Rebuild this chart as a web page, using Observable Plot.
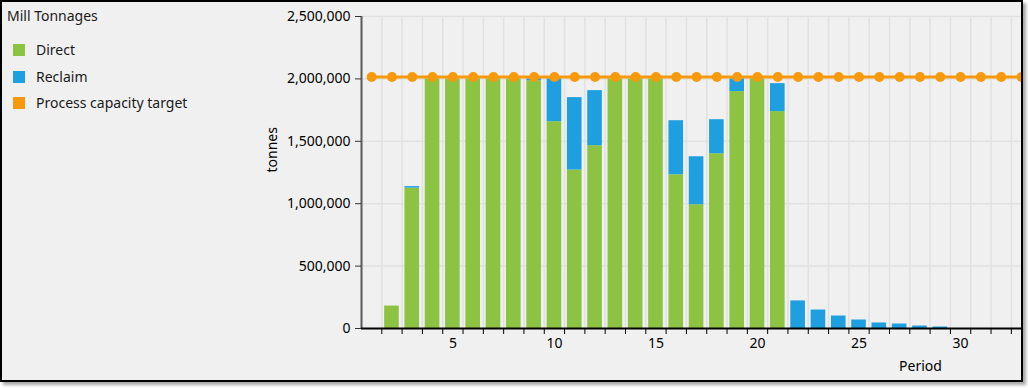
<!DOCTYPE html>
<html>
<head>
<meta charset="utf-8">
<script src="https://cdn.jsdelivr.net/npm/d3@7"></script>
<script src="https://cdn.jsdelivr.net/npm/@observablehq/plot@0.6"></script>
<style>
  html, body { margin: 0; padding: 0; background: #fff; }
  body { width: 1028px; height: 388px; position: relative; overflow: hidden; font-family: "Noto Sans", sans-serif; }
  #frame { position: absolute; left: 0; top: 0; width: 1019px; height: 378px; border: 2px solid #000;
           background: #f0f0f0; box-shadow: 3px 3px 3px rgba(0,0,0,0.35); overflow: hidden; }
  #layer { position: absolute; left: -2px; top: -2px; width: 1028px; height: 388px; }
  #chart { position: absolute; left: 0; top: 0; }
  #legend { position: absolute; left: 0; top: 0; font-size: 14px; color: #1a1a1a; }
  .ttl { position: absolute; left: 7px; top: 6px; line-height: 20px; white-space: nowrap; }
  .item { position: absolute; left: 13px; height: 20px; line-height: 20px; white-space: nowrap; }
  .sw { position: absolute; left: 0; top: 4px; width: 12px; height: 12px; }
  .lb { position: absolute; left: 23px; top: 0; }
</style>
</head>
<body>
<div id="frame"><div id="layer">
  <div id="chart"></div>
  <div id="legend"></div>
</div></div>
<script>
// ---- data ----
const periods = d3.range(1, 34);
const direct = [0, 180000, 1125000, 2000000, 2000000, 2000000, 2000000, 2000000, 1985000, 1657000,
  1270000, 1465000, 2000000, 2000000, 2000000, 1232000, 992000, 1400000, 1898000, 2000000,
  1738000, 0, 0, 0, 0, 0, 0, 0, 0, 0, 0, 0, 0];
const reclaim = [0, 0, 12000, 0, 0, 0, 0, 0, 15000, 343000,
  580000, 441000, 0, 0, 0, 433000, 384000, 273000, 102000, 0,
  224000, 221000, 148000, 100000, 68000, 44000, 36000, 20000, 12000, 0, 0, 0, 0];
const target = periods.map(() => 2015000);
const yTicks = [0, 500000, 1000000, 1500000, 2000000, 2500000];
const xLabels = [5, 10, 15, 20, 25, 30];
const seriesNames = ["Direct", "Reclaim", "Process capacity target"];
const colors = ["#8DC343", "#1E9FDF", "#F7990D"];

const rows = periods.map((p, i) => ({p, direct: direct[i], reclaim: reclaim[i], target: target[i]}));
const bounds = periods.slice(0, -1).map(p => p + 0.5);
const half = 0.36;

const chart = Plot.plot({
  width: 1021,
  height: 380,
  marginLeft: 361,
  marginRight: 0,
  marginTop: 16,
  marginBottom: 52,
  style: {background: "transparent", fontFamily: "'Noto Sans', sans-serif", fontSize: "14px", color: "#000", overflow: "hidden"},
  x: {type: "linear", domain: [0.5, 33]},
  y: {domain: [0, 2500000]},
  marks: [
    Plot.gridY(yTicks.slice(1), {stroke: "#e1e1e1", strokeOpacity: 1, strokeWidth: 1.5}),
    Plot.gridX(bounds, {stroke: "#e1e1e1", strokeOpacity: 1, strokeWidth: 1.5}),
    Plot.rect(rows, {x1: d => d.p - half, x2: d => d.p + half, y1: 0, y2: "direct", fill: colors[0]}),
    Plot.rect(rows, {x1: d => d.p - half, x2: d => d.p + half, y1: "direct", y2: d => d.direct + d.reclaim, fill: colors[1]}),
    Plot.ruleX([0.5], {stroke: "#5a5a5a", strokeWidth: 2}),
    Plot.ruleY([0], {stroke: "#000", strokeWidth: 2}),
    Plot.axisY({ticks: yTicks, tickSize: 6, tickPadding: 5, tickFormat: d3.format(","), stroke: "#333", fill: "#000", label: null}),
    Plot.axisX({ticks: bounds, tickSize: 6, tickFormat: () => "", stroke: "#000", label: null}),
    Plot.axisX({ticks: xLabels, tickSize: 0, tickPadding: 10, fill: "#000", label: null}),
    Plot.lineY(rows, {x: "p", y: "target", stroke: colors[2], strokeWidth: 3}),
    Plot.dot(rows, {x: "p", y: "target", r: 5, fill: colors[2], stroke: null}),
    Plot.text(["tonnes"], {frameAnchor: "left", dx: -89, rotate: -90, fill: "#000", fontSize: 14}),
    Plot.text(["Period"], {frameAnchor: "bottom-right", dx: -101, dy: 38, textAnchor: "middle", lineAnchor: "middle", fill: "#000", fontSize: 14})
  ]
});
document.getElementById("chart").appendChild(chart);

// ---- legend ----
const lg = document.getElementById("legend");
const t = document.createElement("div");
t.className = "ttl"; t.textContent = "Mill Tonnages";
lg.appendChild(t);
const tops = [40, 67, 93];
seriesNames.forEach((name, i) => {
  const it = document.createElement("div");
  it.className = "item";
  it.style.top = tops[i] + "px";
  it.innerHTML = `<span class="sw" style="background:${colors[i]}"></span><span class="lb"></span>`;
  it.querySelector(".lb").textContent = name;
  lg.appendChild(it);
});
</script>
</body>
</html>
